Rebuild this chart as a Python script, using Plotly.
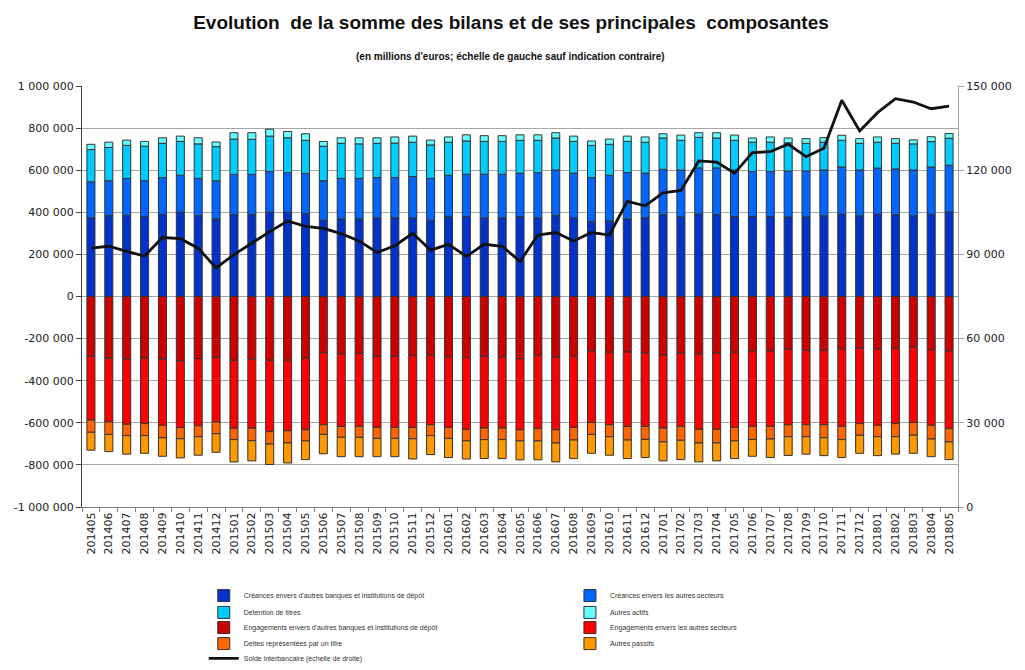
import plotly.graph_objects as go

months = ["201405","201406","201407","201408","201409","201410","201411","201412",
          "201501","201502","201503","201504","201505","201506","201507","201508",
          "201509","201510","201511","201512","201601","201602","201603","201604",
          "201605","201606","201607","201608","201609","201610","201611","201612",
          "201701","201702","201703","201704","201705","201706","201707","201708",
          "201709","201710","201711","201712","201801","201802","201803","201804","201805"]

# Actifs (millions d'euros)
creances_banques = [373000,384000,384000,380000,389000,400000,384000,369000,389000,389000,400000,400000,394000,
                    362000,369000,369000,373000,373000,373000,362000,378000,380000,373000,373000,378000,373000,
                    384000,373000,355000,359000,369000,373000,389000,378000,392000,389000,380000,380000,380000,
                    378000,378000,383000,391000,383000,391000,388000,383000,391000,402000]
creances_secteurs = [172000,166000,177000,170000,176000,176000,177000,181000,191000,191000,194000,189000,191000,
                     188000,192000,192000,192000,192000,197000,199000,198000,201000,208000,208000,208000,216000,
                     217000,213000,210000,217000,220000,213000,215000,223000,219000,222000,221000,214000,214000,
                     218000,218000,218000,224000,218000,219000,218000,218000,224000,222000]
detention_titres = [153000,158000,157000,164000,163000,161000,164000,162000,168000,167000,168000,165000,157000,
                    164000,167000,164000,163000,164000,163000,159000,157000,158000,156000,156000,156000,153000,
                    152000,151000,153000,147000,148000,147000,149000,141000,145000,142000,141000,139000,139000,
                    134000,132000,132000,127000,127000,123000,122000,124000,121000,128000]
autres_actifs = [25000,25000,25000,23000,26000,25000,29000,22000,30000,31000,33000,30000,31000,
                 23000,26000,29000,26000,29000,29000,23000,25000,29000,27000,27000,26000,26000,
                 25000,25000,21000,25000,25000,25000,20000,25000,22000,25000,25000,20000,25000,
                 23000,22000,22000,24000,22000,25000,22000,19000,23000,22000]

# Passifs (millions d'euros, valeurs négatives)
engagements_banques = [-284000,-293000,-298000,-293000,-298000,-305000,-295000,-289000,-303000,-298000,-303000,-303000,-293000,
                       -267000,-273000,-271000,-284000,-284000,-281000,-279000,-287000,-290000,-284000,-287000,-295000,-279000,
                       -289000,-284000,-259000,-265000,-264000,-268000,-278000,-268000,-273000,-268000,-265000,-259000,-259000,
                       -250000,-256000,-256000,-249000,-245000,-249000,-245000,-240000,-254000,-259000]
engagements_secteurs = [-303000,-303000,-309000,-311000,-314000,-317000,-319000,-307000,-323000,-328000,-339000,-335000,-340000,
                        -342000,-344000,-346000,-338000,-338000,-341000,-330000,-335000,-341000,-341000,-338000,-338000,-349000,
                        -344000,-338000,-339000,-344000,-353000,-349000,-347000,-349000,-358000,-363000,-357000,-358000,-358000,
                        -359000,-353000,-353000,-368000,-359000,-363000,-359000,-358000,-358000,-369000]
dettes_titres = [-58000,-59000,-54000,-57000,-59000,-54000,-52000,-56000,-54000,-59000,-59000,-58000,-53000,
                 -46000,-52000,-52000,-52000,-52000,-54000,-52000,-52000,-55000,-55000,-55000,-53000,-58000,
                 -63000,-60000,-57000,-57000,-65000,-62000,-66000,-66000,-65000,-65000,-64000,-62000,-60000,
                 -57000,-57000,-62000,-63000,-55000,-54000,-62000,-61000,-65000,-63000]
autres_passifs = [-85000,-82000,-88000,-84000,-88000,-91000,-88000,-88000,-106000,-96000,-97000,-95000,-89000,
                  -92000,-92000,-92000,-87000,-87000,-96000,-90000,-91000,-86000,-90000,-90000,-90000,-90000,
                  -90000,-88000,-90000,-88000,-88000,-86000,-90000,-92000,-90000,-85000,-84000,-80000,-88000,
                  -89000,-83000,-85000,-85000,-86000,-90000,-83000,-86000,-84000,-84000]

# Solde interbancaire (échelle de droite)
solde_interbancaire = [92200,92900,91100,89400,96000,95600,92200,85200,89900,94100,98100,101900,100000,
                       99300,97400,94800,90700,93100,97500,91500,93600,89300,93600,92900,87500,96900,
                       97800,94800,97800,96900,108900,107300,111900,112800,123300,122900,118900,126300,126600,
                       129300,124800,127800,144900,134000,140500,145500,144300,141900,142800]

left_tickvals = [-1000000,-800000,-600000,-400000,-200000,0,200000,400000,600000,800000,1000000]
left_ticktext = ["-1 000 000","-800 000","-600 000","-400 000","-200 000","0",
                 "200 000","400 000","600 000","800 000","1 000 000"]
right_tickvals = [0,30000,60000,90000,120000,150000]
right_ticktext = ["0","30 000","60 000","90 000","120 000","150 000"]

# (name, values, colour, legend id)
bar_series = [
    ("Créances envers d'autres banques et institutions de dépôt", creances_banques, "#0033CC", "legend"),
    ("Créances envers les autres secteurs", creances_secteurs, "#0066FF", "legend2"),
    ("Détention de titres", detention_titres, "#00CCFF", "legend3"),
    ("Autres actifs", autres_actifs, "#66FFFF", "legend4"),
    ("Engagements envers d'autres banques et institutions de dépôt", engagements_banques, "#CC0000", "legend5"),
    ("Engagements envers les autres secteurs", engagements_secteurs, "#FF0000", "legend6"),
    ("Dettes représentées par un titre", dettes_titres, "#FF6600", "legend7"),
    ("Autres passifs", autres_passifs, "#FF9900", "legend8"),
]

fig = go.Figure()
for name, vals, col, lg in bar_series:
    fig.add_trace(go.Bar(x=months, y=vals, name=name, legend=lg,
                         marker=dict(color=col, line=dict(color="#333333", width=1))))

fig.add_trace(go.Scatter(x=months, y=solde_interbancaire, name="Solde interbancaire (échelle de droite)",
                         yaxis="y2", mode="lines", legend="legend9",
                         line=dict(color="#111111", width=2.8)))

legend_font = dict(family="Liberation Sans", size=7, color="#333333")
leg_common = dict(xanchor="left", yanchor="top", orientation="v", font=legend_font,
                  tracegroupgap=0, bgcolor="rgba(0,0,0,0)")
xl, xr = 0.139, 0.557
rows = [-0.176, -0.216, -0.252, -0.290, -0.325]

fig.update_layout(
    width=1017, height=662,
    margin=dict(l=74, r=67, t=78, b=163, autoexpand=False),
    paper_bgcolor="white", plot_bgcolor="white",
    barmode="relative", bargap=0.55,
    font=dict(family="DejaVu Sans", size=11, color="#222222"),
    title=dict(text="<b>Evolution  de la somme des bilans et de ses principales  composantes</b>",
               x=0.4946, xanchor="center", y=0.979, yanchor="middle",
               font=dict(family="Liberation Sans", size=19, color="#111111")),
    annotations=[dict(text="<b>(en millions d'euros; échelle de gauche sauf indication contraire)</b>",
                      xref="paper", yref="paper", x=0.4886, y=1.069, xanchor="center", yanchor="middle",
                      showarrow=False, font=dict(family="Liberation Sans", size=10, color="#111111"))],
    xaxis=dict(type="category", tickangle=-90, showline=True, linecolor="#808080",
               ticks="outside", ticklen=4, tickcolor="#808080", tickson="boundaries",
               tickfont=dict(size=11), showgrid=False),
    yaxis=dict(range=[-1000000, 1000000], tickvals=left_tickvals, ticktext=left_ticktext,
               showgrid=True, gridcolor="#A6A6A6", gridwidth=1, zeroline=False,
               showline=True, linecolor="#404040", ticks="outside", ticklen=5, tickcolor="#404040"),
    yaxis2=dict(range=[0, 150000], tickvals=right_tickvals, ticktext=right_ticktext,
                overlaying="y", side="right", showgrid=False, zeroline=False,
                showline=True, linecolor="#A0A0A0", ticks="outside", ticklen=5, tickcolor="#A0A0A0"),
    legend=dict(x=xl, y=rows[0], **leg_common),
    legend2=dict(x=xr, y=rows[0], **leg_common),
    legend3=dict(x=xl, y=rows[1], **leg_common),
    legend4=dict(x=xr, y=rows[1], **leg_common),
    legend5=dict(x=xl, y=rows[2], **leg_common),
    legend6=dict(x=xr, y=rows[2], **leg_common),
    legend7=dict(x=xl, y=rows[3], **leg_common),
    legend8=dict(x=xr, y=rows[3], **leg_common),
    legend9=dict(x=xl, y=rows[4], **leg_common),
    showlegend=True,
)

fig.write_html("out.html")
